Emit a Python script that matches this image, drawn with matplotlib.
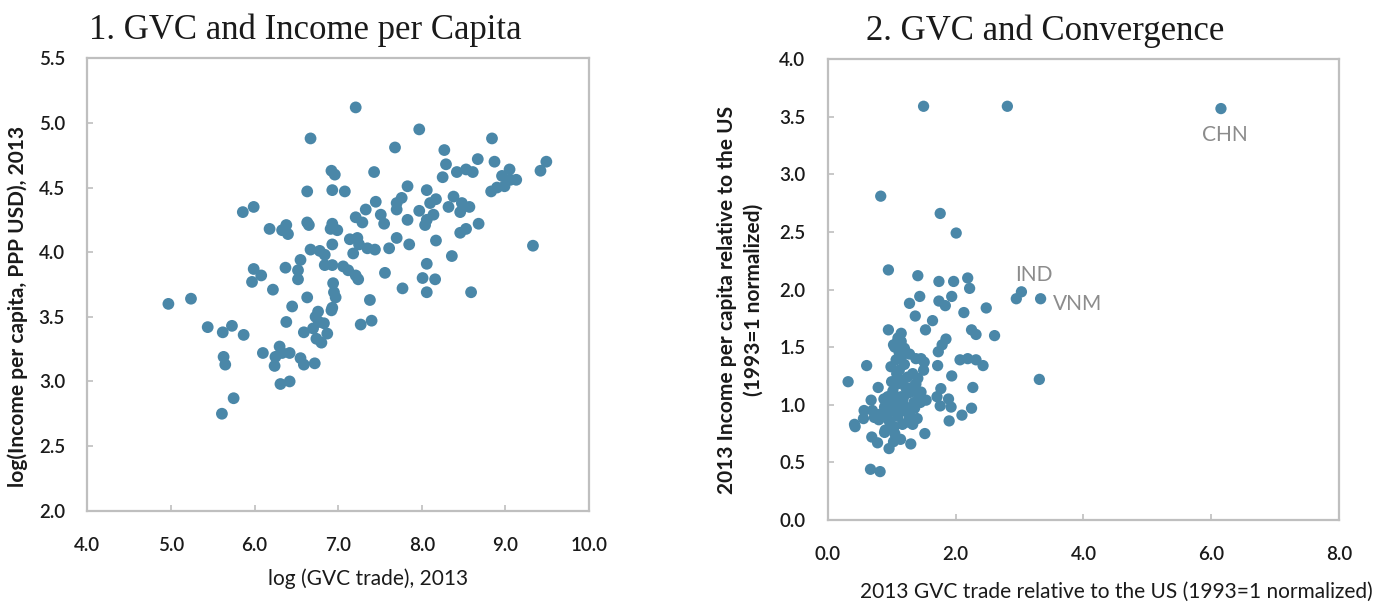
import matplotlib
matplotlib.use("Agg")
import matplotlib.pyplot as plt

# ---------------- Panel 1 data ----------------
gvc_log = [7.21, 7.97, 6.67, 8.84, 7.68, 8.27, 8.29, 8.67, 8.87, 9.49, 9.42, 6.92, 6.96, 7.43,
           8.42, 8.53, 8.61, 9.05, 8.96, 9.06, 9.13, 8.99, 8.90, 8.83, 8.25, 7.83, 8.06, 6.63,
           6.93, 7.08, 8.38, 7.45, 7.70, 7.76, 8.17, 8.10, 8.32, 8.48, 8.57, 8.46, 5.99, 5.86,
           7.33, 7.70, 7.97, 8.14, 7.21, 7.51, 7.29, 7.55, 7.83, 8.06, 8.04, 8.68, 6.63, 6.65,
           6.93, 6.99, 6.91, 6.38, 6.33, 6.18, 6.40, 8.53, 8.46, 7.14, 7.23, 7.70, 7.25, 6.93,
           7.85, 8.17, 9.33, 6.67, 6.78, 6.84, 7.18, 7.35, 7.44, 7.61, 6.84, 6.93, 6.55, 8.36,
           8.06, 5.99, 6.08, 5.97, 6.37, 6.52, 6.52, 7.06, 7.12, 7.21, 7.24, 7.56, 8.01, 8.16,
           6.22, 7.77, 8.06, 8.59, 6.94, 6.95, 6.63, 6.97, 7.38, 5.24, 4.97, 6.45, 6.93, 6.92,
           6.76, 6.73, 5.44, 5.73, 6.38, 6.77, 6.83, 7.27, 7.40, 5.62, 5.87, 6.59, 6.70, 6.87,
           6.74, 6.80, 6.10, 6.30, 6.33, 6.42, 6.25, 5.63, 5.65, 6.24, 6.55, 6.59, 6.72, 6.31,
           6.42, 5.75, 5.61]
income_log = [5.12, 4.95, 4.88, 4.88, 4.81, 4.79, 4.68, 4.72, 4.70, 4.70, 4.63, 4.63, 4.60, 4.62,
              4.62, 4.64, 4.62, 4.64, 4.59, 4.56, 4.56, 4.51, 4.50, 4.47, 4.58, 4.51, 4.48, 4.47,
              4.48, 4.47, 4.43, 4.39, 4.38, 4.42, 4.41, 4.38, 4.35, 4.38, 4.35, 4.31, 4.35, 4.31,
              4.33, 4.33, 4.32, 4.29, 4.27, 4.29, 4.23, 4.22, 4.25, 4.25, 4.21, 4.22, 4.23, 4.21,
              4.22, 4.17, 4.18, 4.21, 4.17, 4.18, 4.14, 4.18, 4.15, 4.10, 4.11, 4.11, 4.06, 4.06,
              4.06, 4.09, 4.05, 4.02, 4.01, 3.98, 3.99, 4.03, 4.02, 4.03, 3.90, 3.90, 3.94, 3.97,
              3.91, 3.87, 3.82, 3.77, 3.88, 3.86, 3.79, 3.89, 3.86, 3.82, 3.79, 3.84, 3.80, 3.79,
              3.71, 3.72, 3.69, 3.69, 3.76, 3.69, 3.65, 3.65, 3.63, 3.64, 3.60, 3.58, 3.57, 3.55,
              3.54, 3.50, 3.42, 3.43, 3.46, 3.46, 3.45, 3.44, 3.47, 3.38, 3.36, 3.38, 3.41, 3.37,
              3.33, 3.30, 3.22, 3.27, 3.22, 3.22, 3.19, 3.19, 3.13, 3.12, 3.18, 3.13, 3.14, 2.98,
              3.00, 2.87, 2.75]

# ---------------- Panel 2 data ----------------
gvc_rel = [1.50, 2.81, 6.15, 0.83, 1.76, 2.01,
           0.95, 1.41, 1.74, 1.97, 2.19, 2.22, 1.44, 1.28, 1.74, 1.84, 1.94, 2.48, 2.13, 1.37,
           1.64, 1.53, 0.95, 2.25, 2.32, 2.61, 1.15, 1.10, 1.05, 1.85, 1.79, 1.20, 1.28, 1.73,
           1.46, 1.51, 0.61, 0.99, 1.72, 2.07, 2.19, 2.32, 2.43, 0.32, 0.79, 1.94, 3.31, 1.77,
           2.27, 1.89, 1.71, 1.76, 1.93, 2.25, 2.10, 1.90, 1.54, 1.46, 0.42, 0.43, 0.56, 0.70,
           0.69, 0.78, 0.96, 1.03, 1.30, 1.52, 0.67, 0.82,
           0.94, 1.02, 1.09, 1.17, 1.25, 1.33, 1.41, 1.22, 1.30, 1.15, 1.07, 0.99, 0.89, 0.83,
           0.73, 0.94, 1.09, 1.22, 1.35, 1.43, 1.28, 1.17, 1.04, 1.33, 0.89, 0.68, 0.57, 1.12,
           1.07, 1.15,
           1.00, 1.05, 1.12, 1.18, 1.25, 1.32, 1.38, 1.10, 1.20, 1.28, 1.36, 0.95, 0.88, 1.00,
           1.08, 1.20, 1.12, 1.03, 1.10, 1.15, 0.97, 1.05, 1.14, 1.25, 1.40, 1.45, 1.50, 1.38,
           0.90, 0.80,
           2.95, 3.03, 3.33]
income_rel = [3.59, 3.59, 3.57, 2.81, 2.66, 2.49,
              2.17, 2.12, 2.07, 2.07, 2.10, 2.01, 1.94, 1.88, 1.90, 1.86, 1.94, 1.84, 1.80, 1.77,
              1.73, 1.65, 1.65, 1.65, 1.61, 1.60, 1.62, 1.56, 1.50, 1.57, 1.52, 1.49, 1.44, 1.46,
              1.40, 1.37, 1.34, 1.33, 1.34, 1.39, 1.40, 1.39, 1.34, 1.20, 1.15, 1.25, 1.22, 1.14,
              1.15, 1.05, 1.07, 0.99, 0.98, 0.97, 0.91, 0.86, 1.04, 1.11, 0.83, 0.81, 0.88, 0.95,
              0.72, 0.67, 0.62, 0.68, 0.66, 0.75, 0.44, 0.42,
              1.07, 1.12, 1.18, 1.21, 1.24, 1.27, 1.23, 1.15, 1.11, 1.07, 1.01, 0.95, 0.98, 0.92,
              0.89, 0.88, 0.92, 0.98, 1.02, 1.07, 0.89, 0.83, 0.81, 0.83, 0.76, 1.04, 0.95, 1.30,
              1.39, 1.41,
              1.00, 1.05, 1.00, 1.05, 1.10, 1.15, 1.18, 0.90, 0.95, 0.93, 0.97, 0.95, 1.05, 1.20,
              1.27, 1.35, 1.45, 1.52, 1.58, 1.55, 0.85, 0.75, 0.70, 0.85, 0.88, 1.02, 1.30, 1.40,
              0.78, 0.87,
              1.92, 1.98, 1.92]

labels = ["CHN", "IND", "VNM"]
label_x = [5.86, 2.93, 3.52]
label_y = [3.34, 2.13, 1.87]

x1_ticks = [4.0, 5.0, 6.0, 7.0, 8.0, 9.0, 10.0]
y1_ticks = [2.0, 2.5, 3.0, 3.5, 4.0, 4.5, 5.0, 5.5]
x2_ticks = [0.0, 2.0, 4.0, 6.0, 8.0]
y2_ticks = [0.0, 0.5, 1.0, 1.5, 2.0, 2.5, 3.0, 3.5, 4.0]

DOT = "#4A87A8"
SPINE = "#BFBFBF"
TXT = "#1a1a1a"
FONT = "Lato"

plt.rcParams["font.family"] = FONT

fig = plt.figure(figsize=(13.99, 6.06), dpi=100)
ax1 = fig.add_axes([0.0624, 0.1573, 0.3586, 0.7465])
ax2 = fig.add_axes([0.5916, 0.1419, 0.3657, 0.7607])

for ax in (ax1, ax2):
    for s in ax.spines.values():
        s.set_color(SPINE)
        s.set_linewidth(1.6)
    ax.tick_params(direction="in", length=4, width=1.2, color=SPINE,
                   labelsize=13.5, labelcolor=TXT)
    ax.tick_params(axis="y", pad=16)
    ax.tick_params(axis="x", pad=19)

ax1.scatter(gvc_log, income_log, s=72, color=DOT, edgecolors="none", zorder=3)
ax1.set_xlim(4, 10)
ax1.set_ylim(2, 5.5)
ax1.set_xticks(x1_ticks)
ax1.set_xticklabels([f"{v:.1f}" for v in x1_ticks])
ax1.set_yticks(y1_ticks)
ax1.set_yticklabels([f"{v:.1f}" for v in y1_ticks])
ax1.set_xlabel("log (GVC trade), 2013", fontsize=15, labelpad=10, color=TXT, x=0.56)
ax1.set_ylabel("log(Income per capita, PPP USD), 2013", fontsize=15, fontweight="bold",
               labelpad=8, color=TXT, y=0.452)
ax1.set_title("1. GVC and Income per Capita", fontsize=25, family="Liberation Serif",
              pad=14, color=TXT, x=0.434)

ax2.scatter(gvc_rel, income_rel, s=66, color=DOT, edgecolors="none", zorder=3)
ax2.set_xlim(0, 8)
ax2.set_ylim(0, 4)
ax2.set_xticks(x2_ticks)
ax2.set_xticklabels([f"{v:.1f}" for v in x2_ticks])
ax2.set_yticks(y2_ticks)
ax2.set_yticklabels([f"{v:.1f}" for v in y2_ticks])
ax2.set_xlabel("2013 GVC trade relative to the US (1993=1 normalized)", fontsize=15,
               labelpad=13, color=TXT, x=0.565)
ax2.set_ylabel("2013 Income per capita relative to the US\n(1993=1 normalized)", fontsize=15,
               fontweight="bold", labelpad=11, color=TXT, linespacing=1.45, y=0.477)
ax2.set_title("2. GVC and Convergence", fontsize=25, family="Liberation Serif",
              pad=14, color=TXT, x=0.425)

for ax in (ax1, ax2):
    for lab in ax.get_xticklabels() + ax.get_yticklabels():
        lab.set_fontweight("semibold")

for t, lx, ly in zip(labels, label_x, label_y):
    ax2.text(lx, ly, t, fontsize=15, color="#8C8C8C", va="center", ha="left")

fig.savefig("out.png", dpi=100)
